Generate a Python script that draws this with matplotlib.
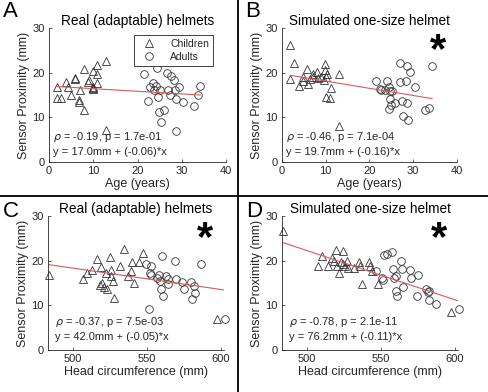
import numpy as np
import matplotlib
matplotlib.use("Agg")
import matplotlib.pyplot as plt
from matplotlib.lines import Line2D

plt.rcParams['font.family'] = ['Liberation Sans', 'DejaVu Sans']
plt.rcParams['mathtext.fontset'] = 'dejavusans'

# ---- panel A: real helmets vs age ----
a_child_x = [1.9, 1.7, 2.8, 3.8, 4.4, 4.9, 5.9, 5.9, 6.8, 6.8, 7.0, 7.9, 7.9, 8.8,
             9.1, 9.9, 10.0, 10.0, 9.9, 10.8, 10.9, 10.9, 12.9, 12.9]
a_child_y = [16.7, 14.4, 14.4, 18.0, 16.8, 15.0, 18.9, 18.5, 13.8, 13.5, 16.1, 20.8, 11.7, 18.0,
             18.3, 16.7, 16.5, 16.3, 20.4, 21.7, 19.7, 17.7, 22.7, 7.1]
a_adult_x = [21.5, 22.3, 22.9, 23.4, 23.8, 24.2, 24.4, 24.7, 25.0, 24.8, 25.4, 25.9, 26.6, 26.8,
             27.4, 27.5, 28.3, 28.4, 28.8, 28.8, 29.3, 30.3, 32.7, 33.6, 34.1]
a_adult_y = [19.7, 13.7, 16.7, 17.6, 16.1, 17.0, 21.0, 14.6, 16.2, 11.2, 9.0, 11.7, 20.0, 16.2,
             15.0, 19.2, 18.3, 16.2, 14.0, 6.9, 16.7, 13.5, 12.5, 15.0, 17.0]
a_fit_x = [1.7, 34.2]
a_fit_y = [16.9, 15.0]

# ---- panel B: simulated helmet vs age ----
b_child_x = [1.9, 1.9, 2.8, 4.0, 4.7, 4.9, 5.8, 5.9, 6.4, 7.0, 7.2, 8.0, 8.3, 8.9,
             9.5, 9.9, 9.9, 10.1, 10.2, 10.1, 11.0, 11.1, 13.1, 13.0]
b_child_y = [26.2, 18.6, 22.1, 17.1, 19.0, 18.2, 20.8, 17.5, 18.6, 19.6, 19.0, 20.1, 18.8, 19.1,
             18.4, 21.9, 20.6, 19.0, 19.6, 14.5, 14.3, 16.5, 19.6, 8.1]
b_adult_x = [21.4, 22.3, 22.7, 23.5, 24.1, 24.5, 24.6, 24.8, 24.5, 25.0, 25.2, 25.8, 26.9, 26.9,
             27.5, 27.7, 28.3, 28.6, 28.6, 28.8, 29.2, 30.3, 32.7, 33.7, 34.2]
b_adult_y = [18.1, 16.3, 16.2, 16.2, 18.2, 16.8, 15.8, 14.0, 11.9, 12.8, 16.0, 13.2, 22.2, 17.9,
             13.6, 10.2, 18.1, 21.6, 13.2, 9.3, 20.1, 16.8, 11.6, 12.1, 21.4]
b_fit_x = [1.9, 34.3]
b_fit_y = [19.4, 14.2]

# ---- panel C: real helmets vs head circumference ----
c_child_x = [483.7, 506.7, 509.4, 513.0, 516.1, 519.0, 518.3, 519.7, 520.6, 521.9, 522.8, 525.0,
             525.3, 525.7, 526.8, 527.3, 531.8, 534.7, 536.9, 539.1, 539.8, 541.4, 544.7, 547.4, 597.3]
c_child_y = [16.8, 16.0, 17.2, 17.9, 20.3, 18.5, 14.5, 14.9, 14.2, 17.3, 13.7, 20.9,
             17.9, 16.6, 15.4, 11.7, 18.8, 22.7, 16.6, 17.7, 19.6, 14.9, 19.8, 21.8, 7.0]
c_adult_x = [549.2, 551.0, 552.6, 551.9, 552.6, 557.0, 558.2, 558.6, 559.3, 560.4, 560.9, 562.6,
             563.8, 564.4, 568.9, 569.4, 573.8, 575.0, 579.4, 580.1, 581.7, 582.4, 586.6, 602.5]
c_adult_y = [19.2, 9.1, 18.8, 17.2, 16.8, 16.2, 16.9, 15.4, 13.7, 21.0, 12.1, 16.6,
             14.7, 16.0, 19.9, 15.8, 15.2, 13.6, 15.2, 11.5, 14.3, 12.7, 19.3, 7.0]
c_fit_x = [483.7, 603.0]
c_fit_y = [19.1, 13.4]

# ---- panel D: simulated helmet vs head circumference ----
d_child_x = [484.0, 507.1, 510.0, 513.8, 516.7, 518.2, 519.8, 520.4, 521.6, 522.7, 524.2, 524.2,
             525.6, 527.1, 527.8, 531.6, 534.9, 536.0, 537.1, 541.6, 542.7, 543.8, 548.2, 597.1]
d_child_y = [26.6, 18.7, 21.0, 18.7, 20.5, 19.9, 22.4, 18.8, 17.3, 19.6, 22.2, 19.2,
             18.7, 19.9, 18.4, 18.4, 19.7, 18.8, 14.7, 19.6, 18.8, 17.7, 14.7, 8.4]
d_adult_x = [546.4, 550.4, 551.6, 552.2, 553.8, 557.1, 558.2, 558.7, 559.8, 560.4, 560.9, 563.3,
             563.8, 564.9, 569.3, 570.0, 574.9, 574.4, 580.4, 581.6, 582.7, 582.7, 587.1, 602.7]
d_adult_y = [17.7, 16.2, 15.7, 21.2, 21.4, 21.9, 18.2, 16.2, 16.6, 13.2, 12.1, 19.9,
             18.1, 14.2, 17.9, 16.2, 16.7, 12.2, 13.7, 13.0, 13.2, 11.3, 10.2, 9.1]
d_fit_x = [484.0, 603.0]
d_fit_y = [24.0, 10.9]

titles = ["Real (adaptable) helmets", "Simulated one-size helmet",
          "Real (adaptable) helmets", "Simulated one-size helmet"]
stats = [(r"$\rho$ = -0.19, p = 1.7e-01", "y = 17.0mm + (-0.06)*x"),
         (r"$\rho$ = -0.46, p = 7.1e-04", "y = 19.7mm + (-0.16)*x"),
         (r"$\rho$ = -0.37, p = 7.5e-03", "y = 42.0mm + (-0.05)*x"),
         (r"$\rho$ = -0.78, p = 2.1e-11", "y = 76.2mm + (-0.11)*x")]
letters = ["A", "B", "C", "D"]
starred = [False, True, True, True]

TXT = '#262626'
W, H = 489, 392


def px_axes(l, r, t, b):
    return [l / W, 1 - b / H, (r - l) / W, (b - t) / H]


def panel(fig, rect, cx, cy, ax_, ay_, fx, fy, k, age):
    ax = fig.add_axes(rect)
    ax.plot(cx, cy, '^', ms=6, mfc='none', mec='#333333', mew=0.6, clip_on=False,
            label='Children')
    ax.plot(ax_, ay_, 'o', ms=5.5, mfc='none', mec='#333333', mew=0.6, clip_on=False,
            label='Adults')
    ax.plot(fx, fy, '-', color='#d65a5a', lw=0.8)
    ax.set_ylim(0, 30)
    ax.set_yticks([0, 10, 20, 30])
    if age:
        ax.set_xlim(0, 40)
        ax.set_xticks([0, 10, 20, 30, 40])
        ax.set_xlabel("Age (years)", fontsize=9, color=TXT, labelpad=1)
    else:
        ax.set_xlim(483, 602)
        ax.set_xticks([500, 550, 600])
        ax.set_xlabel("Head circumference (mm)", fontsize=9, color=TXT, labelpad=1)
    ax.set_ylabel("Sensor Proximity (mm)", fontsize=9, color=TXT, labelpad=2)
    ax.set_title(titles[k], fontsize=9.8, color='black', pad=2)
    for s in ['top', 'right']:
        ax.spines[s].set_visible(False)
    for s in ['left', 'bottom']:
        ax.spines[s].set_color(TXT)
        ax.spines[s].set_linewidth(0.6)
    ax.tick_params(direction='in', length=2.5, width=0.5, labelsize=8,
                   colors=TXT, pad=3)
    ax.patch.set_visible(False)
    y1, y2 = (0.19, 0.075) if age else (0.21, 0.097)
    x0 = 0.025 if age else 0.04
    ax.text(x0, y1, stats[k][0], transform=ax.transAxes, fontsize=8, color=TXT, va='center')
    ax.text(x0, y2, stats[k][1], transform=ax.transAxes, fontsize=8, color=TXT, va='center')
    if starred[k]:
        ax.text(0.89, 0.83, "*", transform=ax.transAxes, fontsize=30, fontweight='bold',
                ha='center', va='center', color='black')
    return ax


fig = plt.figure(figsize=(4.89, 3.92), dpi=100)

ax_a = panel(fig, px_axes(49, 226, 28, 162), a_child_x, a_child_y, a_adult_x, a_adult_y,
             a_fit_x, a_fit_y, 0, True)
ax_b = panel(fig, px_axes(282, 457, 28, 162), b_child_x, b_child_y, b_adult_x, b_adult_y,
             b_fit_x, b_fit_y, 1, True)
ax_c = panel(fig, px_axes(48, 224, 216, 350), c_child_x, c_child_y, c_adult_x, c_adult_y,
             c_fit_x, c_fit_y, 2, False)
ax_d = panel(fig, px_axes(282, 458, 216, 350), d_child_x, d_child_y, d_adult_x, d_adult_y,
             d_fit_x, d_fit_y, 3, False)

leg = ax_a.legend(loc='upper right', bbox_to_anchor=(0.955, 0.985), fontsize=7.5,
                  handlelength=2.2, handletextpad=0.9, borderpad=0.35, labelspacing=0.3,
                  fancybox=False, framealpha=1)
leg.get_frame().set_edgecolor('#222222')
leg.get_frame().set_linewidth(0.6)
for t in leg.get_texts():
    t.set_color(TXT)

# panel letters
for lab, (x, y) in zip(letters, [(3, 1), (245, 1), (3, 201), (246, 201)]):
    fig.text(x / W, 1 - y / H, lab, fontsize=16, va='top', ha='left', color='black')

# dividers between panels
fig.add_artist(Line2D([238 / W, 238 / W], [0, 1], color='#111111', lw=1.4))
fig.add_artist(Line2D([0, 1], [0.5, 0.5], color='#111111', lw=1.4))

fig.savefig("out.png", dpi=100)
